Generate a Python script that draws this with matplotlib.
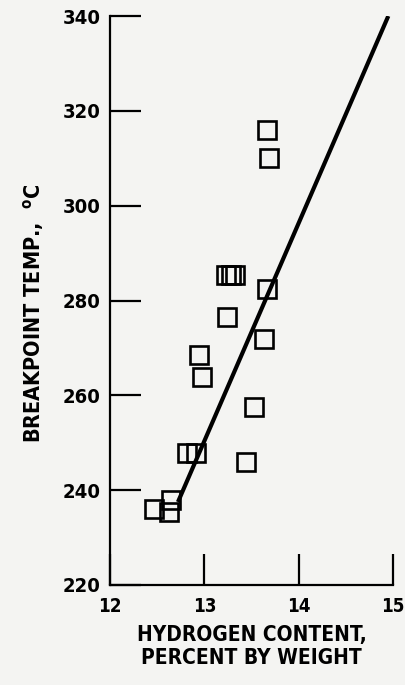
import matplotlib
matplotlib.use("Agg")
import matplotlib.pyplot as plt
from matplotlib import font_manager
from matplotlib.font_manager import FontProperties

# data
hydrogen = [13.66, 13.69, 13.23, 13.28, 13.32, 13.66, 13.24, 13.63, 12.94, 12.97,
            13.53, 13.44, 12.82, 12.91, 12.47, 12.65, 12.63]
breakpoint_temp = [316, 310, 285.4, 285.4, 285.4, 282.4, 276.5, 271.8, 268.5, 263.8,
                   257.5, 246, 247.8, 247.8, 236, 238, 235.4]

fit_x = [12.72, 14.95]
fit_y = [237.5, 340]

x_ticks = [12, 13, 14, 15]
y_ticks = [220, 240, 260, 280, 300, 320, 340]


def find_condensed(want_bold):
    """Pick a condensed font file if there is one"""
    found = []
    for f in font_manager.fontManager.ttflist:
        if f.stretch in ('condensed', 'semi-condensed', 'extra-condensed') or \
                'Narrow' in f.name or 'Condensed' in f.name or \
                'Condensed' in f.fname or 'Narrow' in f.fname:
            if f.style == 'normal':
                found.append(f)
    if not found:
        return None
    is_bold = [f for f in found if f.weight in ('bold', 700, 600)]
    not_bold = [f for f in found if f not in is_bold]
    pick = (is_bold or found) if want_bold else (not_bold or found)
    return pick[0].fname


bold_file = find_condensed(True)
plain_file = find_condensed(False)


def fp(size, bold=True):
    fname = bold_file if bold else plain_file
    if fname:
        return FontProperties(fname=fname, size=size)
    return FontProperties(family='DejaVu Sans', weight='bold' if bold else 'normal',
                          size=size * 0.75)


bg = '#f4f4f2'

fig = plt.figure(figsize=(4.06, 6.85), dpi=100, facecolor=bg)
ax = fig.add_axes([0.271, 0.146, 0.697, 0.8306], facecolor=bg)

ax.plot(fit_x, fit_y, color='black', linewidth=3, solid_capstyle='butt', zorder=2)
ax.plot(hydrogen, breakpoint_temp, linestyle='none', marker='s', markersize=12.5,
        markerfacecolor='none', markeredgecolor='black', markeredgewidth=1.9, zorder=3)

ax.set_xlim(12, 15)
ax.set_ylim(220, 340)
ax.set_xticks(x_ticks)
ax.set_yticks(y_ticks)

for side in ['top', 'right']:
    ax.spines[side].set_visible(False)
for side in ['left', 'bottom']:
    ax.spines[side].set_linewidth(1.6)

ax.tick_params(axis='both', direction='in', length=22, width=1.6, colors='black')
ax.tick_params(axis='y', pad=7)
ax.tick_params(axis='x', pad=9)

for lbl in ax.get_yticklabels():
    lbl.set_fontproperties(fp(14.5))
for lbl in ax.get_xticklabels():
    lbl.set_fontproperties(fp(13.5))

ax.set_xlabel('HYDROGEN CONTENT,\nPERCENT BY WEIGHT', fontproperties=fp(15),
              linespacing=1.2, labelpad=6)
ax.set_ylabel('BREAKPOINT TEMP.,  $^{\\mathregular{o}}$C', fontproperties=fp(15.5))
ax.yaxis.set_label_coords(-0.228, 0.478)

fig.savefig('out.png', dpi=100, facecolor=bg)
